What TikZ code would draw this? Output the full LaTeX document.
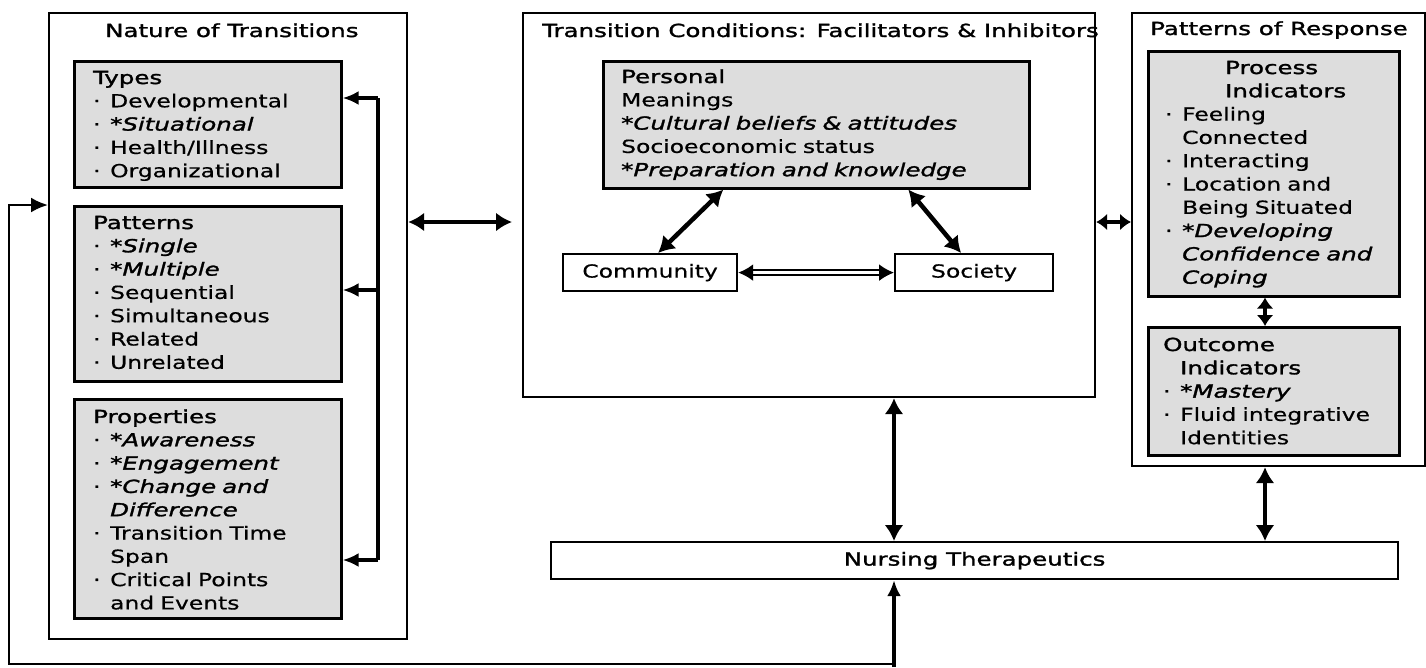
\documentclass[tikz,border=0pt]{standalone}
\usepackage{fontspec}
\setmainfont{DejaVu Sans}[FakeStretch=1.3,FakeBold=0.6]
\newfontfamily\headfont{DejaVu Sans}[FakeStretch=1.36,FakeBold=1.6]
\usepackage{tikz}
\usetikzlibrary{arrows.meta}
\definecolor{boxgray}{RGB}{221,221,221}
\newcommand{\itm}{\makebox[17pt][l]{·}}
\newcommand{\ind}{\hspace*{17pt}}
\newcommand{\hd}[1]{{\headfont #1}}
\newcommand{\emx}[1]{{\headfont\itshape #1}}

\begin{document}
\begin{tikzpicture}[x=1pt,y=-1pt,
  every node/.style={font=\fontsize{18}{23.3}\selectfont},
  frame/.style={draw,line width=2.2pt,anchor=north west,inner sep=0pt},
  greybox/.style={frame,fill=boxgray,line width=2.6pt},
  txt/.style={anchor=base west,inner sep=0pt,text width=#1,align=left},
  txt/.default=250pt,
  title/.style={anchor=base west,inner sep=0pt,font=\headfont\fontsize{18}{23.3}\selectfont},
  link/.style={line width=4.5pt,{Latex[length=16pt,width=19pt]}-{Latex[length=16pt,width=19pt]}},
  shortlink/.style={line width=4.5pt,{Latex[length=11pt,width=17pt]}-{Latex[length=11pt,width=17pt]}},
  tip/.style={line width=3.5pt,-{Latex[length=16pt,width=14pt]}},
  feed/.style={line width=2.4pt,-{Latex[length=17pt,width=15pt]}}]
\useasboundingbox (0,0) rectangle (1426,667);

\node[frame,minimum width=358pt,minimum height=626pt] (nature) at (48,12) {};
\node[greybox,minimum width=267pt,minimum height=126pt] (types) at (73,60) {};
\node[greybox,minimum width=267pt,minimum height=175pt] (patterns) at (73,205) {};
\node[greybox,minimum width=267pt,minimum height=219pt] (props) at (73,398) {};
\node[frame,minimum width=572pt,minimum height=384pt] (cond) at (522,12) {};
\node[greybox,minimum width=426pt,minimum height=127pt] (personal) at (602,60) {};
\node[frame,minimum width=174pt,minimum height=37pt] (community) at (562,253) {Community};
\node[frame,minimum width=158pt,minimum height=37pt] (society) at (894,253) {Society};
\node[frame,minimum width=293pt,minimum height=453pt] (response) at (1131,12) {};
\node[greybox,minimum width=251pt,minimum height=245pt] (process) at (1147,50) {};
\node[greybox,minimum width=251pt,minimum height=128pt] (outcome) at (1147,326) {};
\node[frame,minimum width=847pt,minimum height=37pt,font=\headfont\fontsize{18}{23.3}\selectfont] (nursing) at (550,541) {Nursing Therapeutics};

\node[title] (naturetitle) at (105,37) {Nature of Transitions};
\node[title] (condtitle) at (542,37) {Transition Conditions: Facilitators \& Inhibitors};
\node[title] (responsetitle) at (1150,35) {Patterns of Response};

\node[txt] (typestxt) at (93,84) {\hd{Types}\\\itm Developmental\\\itm\emx{*Situational}\\\itm Health/Illness\\\itm Organizational};
\node[txt] (patternstxt) at (93,229) {\hd{Patterns}\\\itm\emx{*Single}\\\itm\emx{*Multiple}\\\itm Sequential\\\itm Simultaneous\\\itm Related\\\itm Unrelated};
\node[txt] (propstxt) at (93,423) {\hd{Properties}\\\itm\emx{*Awareness}\\\itm\emx{*Engagement}\\\itm\emx{*Change and}\\\ind\emx{Difference}\\\itm Transition Time\\\ind Span\\\itm Critical Points\\\ind and Events};
\node[txt=400pt] (personaltxt) at (621,83) {\hd{Personal}\\Meanings\\\emx{*Cultural beliefs \& attitudes}\\Socioeconomic status\\\emx{*Preparation and knowledge}};
\node[txt=230pt] (processtxt) at (1165,74) {\hspace*{60pt}\hd{Process}\\\hspace*{60pt}\hd{Indicators}\\\itm Feeling\\\ind Connected\\\itm Interacting\\\itm Location and\\\ind Being Situated\\\itm\emx{*Developing}\\\ind\emx{Confidence and}\\\ind\emx{Coping}};
\node[txt=230pt] (outcometxt) at (1163,351) {\hd{Outcome}\\\ind\hd{Indicators}\\\itm\emx{*Mastery}\\\itm Fluid integrative\\\ind Identities};

\coordinate (busT) at (378,98);
\coordinate (busM) at (378,290);
\coordinate (busB) at (378,560);
\draw[line width=3.5pt] (busT) -- (busB);
\draw[tip] (busT) -- (busT -| types.east);
\draw[tip] (busM) -- (busM -| patterns.east);
\draw[tip] (busB) -- (busB -| props.east);

\coordinate (mid) at (0,222);
\draw[link,shorten >=10pt] (nature.east |- mid) -- (cond.west |- mid);
\draw[shortlink] (cond.east |- mid) -- (response.west |- mid);
\draw[link] ([xshift=-93pt]personal.south) -- ([xshift=8pt]community.north);
\draw[link] ([xshift=92pt]personal.south) -- ([xshift=-13pt]society.north);
\draw[link,line width=2pt,double,double distance=3pt,{Latex[length=15pt,width=17pt]}-{Latex[length=15pt,width=17pt]}] (community) -- (society);

\coordinate (nx) at (894,0);
\coordinate (rx) at (1265,0);
\draw[link] (cond.south -| nx) -- (nursing.north -| nx);
\draw[link] (response.south -| rx) -- (nursing.north -| rx);
\draw[shortlink] (process.south -| rx) -- (outcome.north -| rx);

\coordinate (fbin) at (894,667);
\coordinate (fb) at (894,664);
\coordinate (lp) at (9,205);
\draw[tip] (fbin) -- (nursing.south -| fbin);
\draw[feed] (fb) -| (lp) -- (nature.west |- lp);
\end{tikzpicture}
\end{document}
